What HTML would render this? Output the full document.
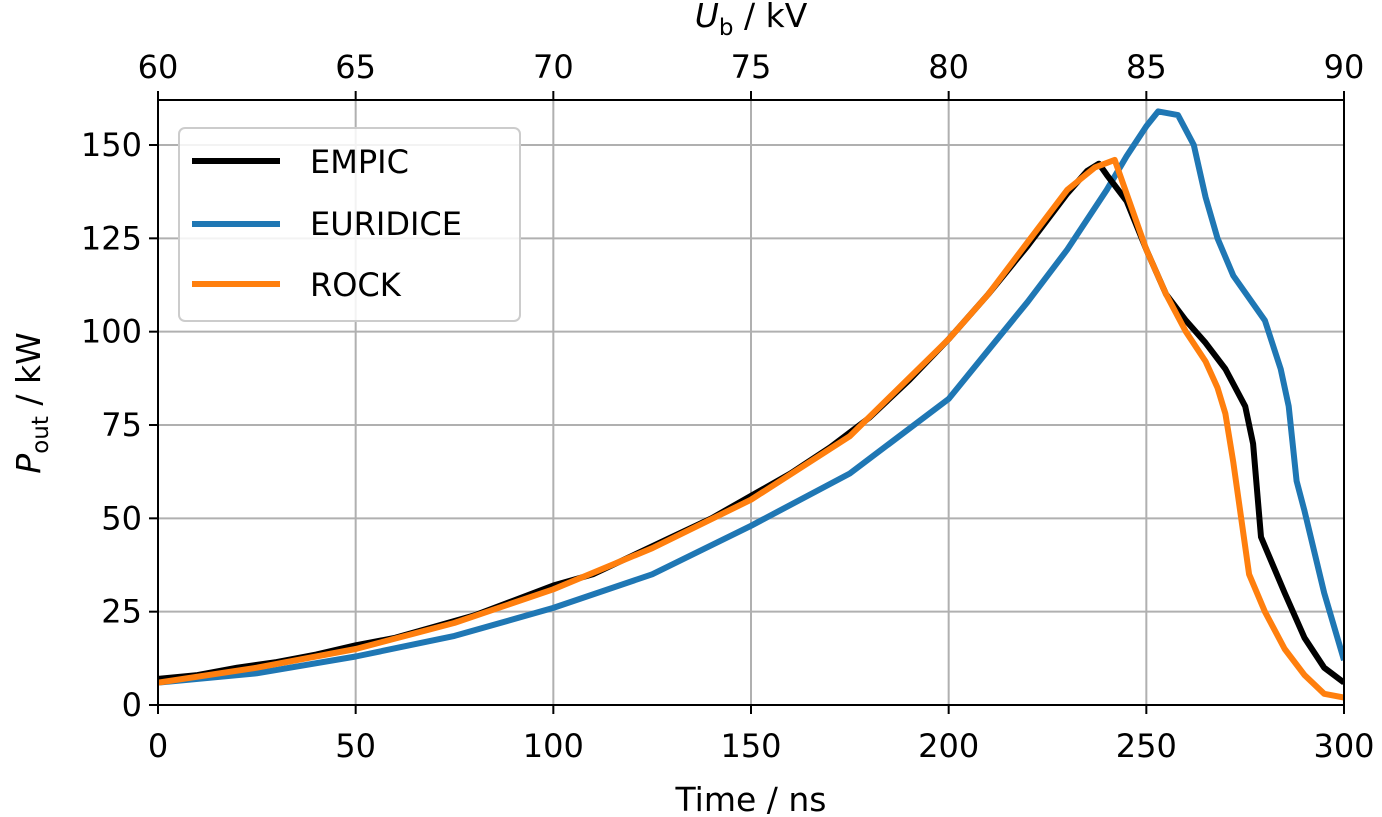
<!DOCTYPE html>
<html><head><meta charset="utf-8"><style>
html,body{margin:0;padding:0;background:#fff}
svg{display:block;font-family:"DejaVu Sans","Liberation Sans",sans-serif}
</style></head><body>
<svg id="chart" width="1382" height="817"></svg>
<script>
const emT=[0,10,20,30,40,50,60,70,80,90,100,110,120,130,140,150,160,170,180,190,200,210,220,230,235,238,240,245,250,255,260,265,270,275,277,279,281,285,290,295,300];
const emP=[7,8,10,11.5,13.5,16,18,21,24,28,32,35,40,45,50,56,62,69,77,87,98,110,123,137,143,145,142,135,122,110,103,97,90,80,70,45,40,30,18,10,6];
const euT=[0,25,50,75,100,125,150,175,200,210,220,230,240,245,250,253,258,262,265,268,272,280,284,286,288,290,295,300];
const euP=[6,8.5,13,18.5,26,35,48,62,82,95,108,122,138,147,155,159,158,150,136,125,115,103,90,80,60,52,30,12];
const roT=[0,25,50,75,100,125,150,175,200,210,220,230,237,242,250,255,260,265,268,270,272,274,276,280,285,290,295,300];
const roP=[6,10,15,22,31,42,55,72,98,110,124,138,144,146,122,110,100,92,85,78,65,50,35,25,15,8,3,2];
const xTicks=[0,50,100,150,200,250,300];
const uTicks=[60,65,70,75,80,85,90];
const yTicks=[0,25,50,75,100,125,150];
const NS="http://www.w3.org/2000/svg";
const svg=document.getElementById('chart');
const L=158,R=1344,B=705,T=100;
const xs=t=>L+(t/300)*(R-L);
const xu=u=>L+((u-60)/30)*(R-L);
const ys=p=>B-p*(560/150);
function el(tag,attrs,text){const e=document.createElementNS(NS,tag);for(const k in attrs)e.setAttribute(k,attrs[k]);if(text!==undefined)e.textContent=text;svg.appendChild(e);return e;}
xTicks.forEach(t=>{const g=el('line',{x1:xs(t),x2:xs(t),y1:T,y2:B,stroke:'#b0b0b0','stroke-width':2});

});
yTicks.forEach(p=>{const g=el('line',{x1:L,x2:R,y1:ys(p),y2:ys(p),stroke:'#b0b0b0','stroke-width':2});

});
const defs=el('defs',{});const cp=document.createElementNS(NS,'clipPath');cp.setAttribute('id','cp');
const cr=document.createElementNS(NS,'rect');cr.setAttribute('x',L);cr.setAttribute('y',T);cr.setAttribute('width',R-L);cr.setAttribute('height',B-T);cp.appendChild(cr);defs.appendChild(cp);
function series(T_,P_,color,name){const d=T_.map((t,i)=>(i?'L':'M')+xs(t).toFixed(1)+','+ys(P_[i]).toFixed(1)).join(' ');
const p=el('path',{d:d,fill:'none',stroke:color,'stroke-width':6,'stroke-linejoin':'round','clip-path':'url(#cp)'});

}
series(euT,euP,'#1f77b4','euridice-line');
series(emT,emP,'#000000','empic-line');
series(roT,roP,'#ff7f0e','rock-line');
const fr=el('rect',{x:L,y:T,width:R-L,height:B-T,fill:'none',stroke:'#000','stroke-width':2});


xTicks.forEach(t=>{el('line',{x1:xs(t),x2:xs(t),y1:B,y2:B+9,stroke:'#000','stroke-width':2});
const tx=el('text',{x:xs(t),y:B+52,'font-size':32,'text-anchor':'middle'},t);

});
uTicks.forEach(u=>{el('line',{x1:xu(u),x2:xu(u),y1:T,y2:T-9,stroke:'#000','stroke-width':2});
const tx=el('text',{x:xu(u),y:T-22,'font-size':32,'text-anchor':'middle'},u);

});
yTicks.forEach(p=>{el('line',{x1:L,x2:L-9,y1:ys(p),y2:ys(p),stroke:'#000','stroke-width':2});
const tx=el('text',{x:L-16,y:ys(p)+11,'font-size':32,'text-anchor':'end'},p);

});
</script>
<div style="position:absolute;left:0;top:0;width:1382px;height:817px;pointer-events:none">
<svg width="1382" height="817" style="position:absolute;left:0;top:0">
<text x="751" y="811" font-size="33" text-anchor="middle">Time / ns</text>
<text x="751" y="27" font-size="33" text-anchor="middle"><tspan font-style="italic">U</tspan><tspan font-size="23" dy="8">b</tspan><tspan dy="-8"> / kV</tspan></text>
<text transform="translate(40,403) rotate(-90)" font-size="33" text-anchor="middle"><tspan font-style="italic">P</tspan><tspan font-size="23" dy="8">out</tspan><tspan dy="-8"> / kW</tspan></text>
<g>
<rect x="179" y="128" width="341" height="193" rx="6" fill="#fff" fill-opacity="0.85" stroke="#ccc" stroke-width="2"/>
<line x1="192" x2="280" y1="161" y2="161" stroke="#000" stroke-width="6"/>
<text x="310" y="173" font-size="32">EMPIC</text>
<line x1="192" x2="280" y1="224" y2="224" stroke="#1f77b4" stroke-width="6"/>
<text x="310" y="235" font-size="32">EURIDICE</text>
<line x1="192" x2="280" y1="284" y2="284" stroke="#ff7f0e" stroke-width="6"/>
<text x="310" y="296" font-size="32">ROCK</text>
</g>
</svg></div>
</body></html>
